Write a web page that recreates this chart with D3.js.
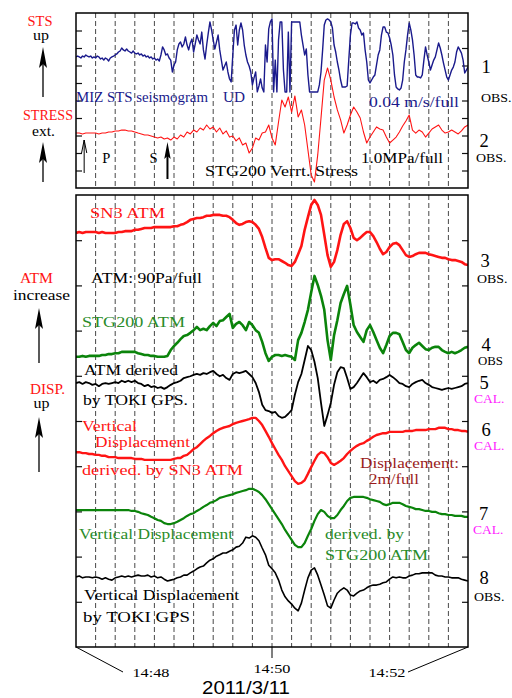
<!DOCTYPE html>
<html>
<head>
<meta charset="utf-8">
<script src="https://cdn.jsdelivr.net/npm/d3@7"></script>
<style>
  body { margin: 0; background: #fff; }
  text { font-family: "Liberation Serif", "Times New Roman", serif; }
</style>
</head>
<body>
<svg id="chart" width="512" height="698"></svg>
<script>
// Records start at 14:48:00. Values are in panel units (0 = panel bottom, 100 = panel top).

// 1: MIZ STS seismogram, UD (0.04 m/s/full, clipped), 1 s samples
const STS_STEP = 1;
const stsUD = [
  74.9, 75.4, 74.9, 74.3, 75.4, 74.9, 76.0, 75.4, 74.9, 75.4,
  74.3, 74.9, 74.3, 75.4, 74.9, 73.7, 74.3, 73.1, 74.3, 73.7,
  72.6, 74.3, 74.9, 75.4, 76.0, 76.6, 77.7, 78.3, 80.0, 78.9,
  78.3, 79.4, 78.3, 77.7, 77.1, 78.3, 77.1, 76.6, 77.1, 76.0,
  76.6, 75.4, 76.0, 74.9, 75.4, 74.3, 74.9, 73.7, 74.3, 73.1,
  73.7, 72.6, 76.0, 80.6, 78.9, 76.0, 76.6, 74.3, 73.1, 66.3,
  70.3, 72.0, 78.9, 82.3, 83.4, 80.6, 82.3, 86.3, 81.7, 78.9,
  82.9, 85.1, 77.7, 82.3, 87.4, 84.6, 82.3, 89.1, 78.9, 73.7,
  81.7, 88.6, 94.9, 90.3, 84.6, 79.4, 83.4, 87.4, 78.9, 73.1,
  67.4, 69.7, 72.0, 66.3, 62.3, 60.6, 76.0, 90.3, 93.1, 81.7,
  90.3, 94.3, 90.3, 81.7, 76.0, 72.0, 69.7, 66.3, 58.9, 62.9,
  66.3, 54.9, 58.3, 62.3, 57.1, 54.9, 81.7, 72.0, 90.9, 94.9,
  96.6, 54.9, 73.1, 54.9, 84.6, 94.9, 94.9, 67.4, 54.9, 54.9,
  89.1, 54.9, 94.9, 94.9, 94.9, 94.9, 94.9, 94.9, 87.4, 81.7,
  76.0, 79.4, 64.6, 54.9, 54.9, 54.9, 54.9, 54.9, 54.9, 58.9,
  66.3, 78.9, 93.1, 96.0, 96.6, 96.0, 94.9, 91.4, 81.7, 77.7,
  72.0, 67.4, 61.7, 57.7, 57.7, 57.7, 58.3, 73.1, 87.4, 94.3,
  94.3, 93.7, 94.9, 91.4, 90.3, 87.4, 88.6, 78.9, 72.0, 61.7,
  60.0, 61.7, 63.4, 64.6, 70.3, 76.0, 78.9, 87.4, 92.0, 92.0,
  89.1, 88.6, 85.7, 81.7, 76.0, 64.6, 57.7, 56.6, 56.0, 57.1,
  61.7, 72.0, 78.9, 87.4, 94.3, 90.3, 84.6, 76.0, 64.6, 63.4,
  63.4, 62.9, 64.6, 73.1, 80.6, 76.0, 72.0, 67.4, 70.3, 73.1,
  74.9, 78.9, 82.9, 80.0, 76.0, 71.4, 67.4, 63.4, 61.7, 64.6,
  67.4, 69.1, 72.0, 77.7, 80.6, 78.9, 77.1, 73.1, 65.7, 67.4, 69.1
];

// The remaining records use 2 s samples
const STEP = 2;

// 2: STG200 vertical stress (1.0 MPa/full)
const stressV = [
  31.4, 31.4, 30.9, 31.4, 31.4, 31.4, 31.4, 30.9, 31.4, 31.4,
  32.0, 32.0, 32.6, 32.6, 33.1, 33.1, 32.6, 32.6, 32.0, 31.4,
  30.9, 30.3, 30.3, 29.7, 29.1, 28.6, 29.1, 28.0, 28.6, 27.4,
  29.1, 28.0, 30.3, 29.1, 32.0, 30.9, 33.1, 32.0, 34.3, 33.1,
  36.0, 33.7, 34.9, 32.0, 34.3, 30.9, 32.6, 29.1, 29.7, 26.9,
  28.6, 24.6, 25.7, 20.0, 22.9, 28.6, 27.4, 31.4, 32.0, 36.0,
  28.6, 24.6, 37.7, 50.3, 46.3, 52.0, 43.4, 52.6, 40.6, 44.6,
  36.0, 21.7, 7.4, 3.4, 18.9, 40.0, 61.7, 68.6, 61.7, 52.0,
  44.6, 38.9, 31.4, 36.0, 41.7, 46.3, 43.4, 40.0, 32.0, 25.7,
  29.1, 32.0, 34.9, 33.7, 33.1, 29.1, 25.7, 27.4, 29.1, 32.0,
  35.4, 38.3, 41.7, 33.1, 31.4, 33.1, 32.0, 29.1, 31.4, 33.7,
  34.9, 36.0, 33.1, 31.4, 32.0, 33.1, 32.0, 30.9, 32.6, 34.9, 36.0
];

// 3: SN3 atmospheric pressure (90 Pa/full)
const sn3Atm = [
  91.6, 91.8, 91.6, 91.8, 91.8, 91.8, 91.8, 91.6, 91.8, 91.6,
  91.6, 91.6, 91.6, 91.8, 91.8, 92.0, 92.0, 92.0, 92.3, 92.3,
  92.5, 92.7, 92.7, 92.7, 92.9, 92.9, 92.9, 92.9, 92.9, 92.9,
  93.1, 93.1, 93.4, 93.6, 94.0, 94.5, 94.7, 94.9, 94.9, 95.1,
  95.4, 95.4, 95.6, 95.6, 95.6, 95.4, 95.4, 95.1, 94.5, 93.8,
  93.4, 93.6, 94.0, 94.2, 94.0, 93.4, 92.5, 90.7, 88.3, 86.1,
  85.6, 85.8, 85.8, 85.4, 85.0, 84.5, 84.3, 85.2, 86.9, 88.7,
  92.3, 95.1, 97.8, 98.9, 97.8, 95.6, 91.2, 86.7, 84.1, 85.2,
  87.8, 91.2, 93.6, 94.2, 92.7, 90.5, 90.0, 90.5, 91.2, 91.8,
  91.8, 90.9, 89.6, 88.1, 86.9, 87.4, 88.5, 89.2, 89.4, 88.9,
  87.8, 86.7, 86.3, 86.5, 86.9, 87.2, 87.2, 87.2, 86.9, 86.7,
  86.5, 86.3, 86.1, 86.1, 85.8, 85.6, 85.6, 85.4, 85.2, 84.7, 84.5
];

// 4: STG200 atmospheric pressure
const stg200Atm = [
  64.2, 64.2, 64.4, 64.2, 64.4, 64.4, 64.4, 64.4, 64.6, 64.6,
  64.8, 64.8, 65.0, 65.0, 65.3, 65.3, 65.3, 65.3, 65.3, 65.0,
  64.8, 64.6, 64.6, 64.4, 64.4, 64.2, 64.2, 64.2, 64.4, 65.7,
  66.6, 67.3, 68.1, 68.8, 69.0, 69.5, 70.1, 70.8, 70.1, 70.4,
  70.1, 71.0, 71.7, 71.0, 72.1, 72.3, 73.0, 73.7, 70.6, 71.5,
  71.9, 71.2, 70.1, 71.9, 71.2, 70.1, 69.5, 67.5, 65.0, 63.3,
  64.2, 64.6, 64.6, 64.4, 64.6, 64.4, 64.2, 63.5, 67.9, 69.5,
  71.9, 74.6, 78.5, 82.1, 80.1, 77.7, 74.6, 67.9, 63.5, 69.0,
  72.3, 76.1, 78.1, 79.9, 75.7, 71.2, 69.7, 68.6, 67.5, 70.1,
  71.2, 69.7, 67.9, 66.2, 65.0, 66.8, 68.8, 69.5, 69.5, 69.2,
  67.5, 65.7, 65.0, 66.2, 66.8, 67.3, 66.6, 65.9, 65.7, 66.2,
  66.4, 66.4, 65.7, 65.3, 65.0, 65.3, 65.0, 65.3, 65.7, 66.2, 66.4
];

// 5: atmospheric pressure derived from TOKI GPS
const tokiAtm = [
  58.4, 58.6, 58.2, 58.6, 58.4, 58.0, 58.2, 57.7, 58.2, 58.4,
  58.2, 58.4, 58.6, 58.4, 58.9, 58.6, 58.9, 58.6, 58.9, 58.4,
  58.2, 57.7, 58.0, 57.5, 57.7, 57.3, 57.5, 57.1, 57.5, 58.0,
  58.4, 58.6, 58.9, 59.5, 59.7, 59.9, 60.2, 60.4, 60.2, 60.6,
  60.4, 60.8, 61.1, 60.4, 59.9, 60.2, 59.5, 59.1, 60.4, 60.8,
  60.6, 60.8, 61.1, 60.4, 59.7, 58.4, 56.4, 53.6, 52.4, 52.2,
  51.8, 52.0, 51.1, 50.7, 50.9, 51.6, 52.4, 55.8, 58.6, 60.4,
  63.5, 66.6, 65.7, 63.1, 59.5, 54.0, 48.9, 51.3, 54.0, 58.0,
  60.8, 61.9, 61.7, 59.5, 57.1, 57.5, 58.4, 59.5, 60.6, 59.7,
  58.6, 58.9, 58.4, 59.1, 59.3, 59.7, 60.2, 59.7, 59.1, 58.4,
  58.2, 57.7, 57.5, 58.2, 58.6, 58.9, 59.1, 58.4, 58.0, 57.5,
  57.3, 57.1, 56.9, 57.1, 57.3, 57.1, 57.3, 57.5, 57.7, 58.2, 58.4
];

// 6: vertical displacement derived from SN3 atmospheric pressure (2 m/full)
const sn3Disp = [
  43.1, 43.1, 42.9, 42.9, 42.7, 42.7, 42.5, 42.5, 42.3, 42.3,
  42.0, 42.0, 42.0, 41.8, 41.8, 41.8, 41.8, 41.8, 41.6, 41.6,
  41.6, 41.4, 41.4, 41.4, 41.4, 41.4, 41.4, 41.4, 41.4, 41.4,
  41.6, 41.8, 41.8, 42.3, 42.5, 43.1, 43.8, 44.2, 44.9, 45.6,
  46.2, 46.7, 47.3, 47.8, 48.2, 48.5, 48.7, 48.9, 49.3, 49.6,
  49.8, 50.0, 50.2, 50.4, 50.7, 50.7, 50.0, 49.1, 47.8, 46.5,
  45.1, 43.8, 42.5, 41.4, 40.0, 38.9, 37.8, 36.7, 36.1, 36.3,
  36.9, 38.3, 39.8, 41.2, 42.5, 43.1, 42.9, 42.0, 40.7, 40.3,
  40.7, 41.2, 41.8, 42.7, 43.4, 44.0, 44.5, 44.9, 45.1, 45.6,
  46.0, 46.5, 46.9, 47.1, 47.3, 47.3, 47.6, 47.6, 47.6, 47.6,
  47.6, 47.8, 47.8, 47.8, 48.0, 48.0, 48.0, 48.0, 48.2, 48.2,
  48.2, 48.5, 48.5, 48.5, 48.2, 48.2, 48.0, 48.0, 47.8, 47.8, 47.6
];

// 7: vertical displacement derived from STG200 atmospheric pressure
const stg200Disp = [
  30.3, 30.3, 30.3, 30.3, 30.3, 30.3, 30.3, 30.3, 30.3, 30.3,
  30.3, 30.3, 30.3, 30.3, 30.3, 30.3, 30.3, 30.1, 30.1, 29.9,
  29.6, 29.4, 29.2, 28.8, 28.5, 28.1, 27.9, 27.4, 27.2, 27.2,
  27.4, 27.7, 28.1, 28.5, 29.0, 29.4, 29.6, 30.1, 30.5, 31.0,
  31.4, 31.9, 32.1, 32.5, 33.0, 33.2, 33.4, 33.6, 33.8, 34.1,
  34.3, 34.5, 34.7, 35.0, 35.0, 34.7, 34.3, 33.6, 32.7, 31.6,
  30.5, 29.4, 28.3, 27.2, 25.9, 24.8, 23.7, 22.6, 22.1, 22.1,
  23.0, 24.6, 26.1, 27.9, 29.4, 30.3, 29.9, 29.0, 28.5, 28.5,
  29.2, 30.3, 31.2, 32.3, 33.0, 33.2, 33.2, 33.2, 33.2, 33.0,
  32.7, 32.5, 32.3, 32.1, 31.6, 31.4, 31.6, 31.9, 31.9, 31.9,
  31.6, 31.2, 31.0, 30.8, 30.5, 30.5, 30.3, 30.1, 30.1, 29.9,
  29.9, 29.6, 29.4, 29.4, 29.2, 29.2, 29.0, 29.0, 29.0, 28.8, 28.8
];

// 8: vertical displacement observed by TOKI GPS
const tokiDisp = [
  15.5, 15.7, 15.3, 15.5, 15.5, 15.3, 15.5, 15.3, 15.0, 15.3,
  15.0, 14.8, 15.3, 15.5, 15.7, 15.5, 15.7, 15.5, 15.7, 15.9,
  15.7, 15.7, 15.9, 15.5, 15.7, 15.3, 15.5, 15.0, 14.6, 14.8,
  15.0, 15.3, 15.5, 15.9, 15.9, 16.4, 16.8, 17.3, 17.7, 17.9,
  18.6, 19.2, 19.5, 20.1, 20.4, 20.8, 20.8, 21.2, 21.5, 22.1,
  22.3, 23.0, 24.3, 24.1, 24.6, 24.3, 23.5, 21.9, 20.4, 18.1,
  17.3, 16.4, 14.8, 12.6, 11.1, 10.2, 9.5, 8.6, 8.0, 9.7,
  12.6, 15.3, 17.0, 17.5, 15.9, 13.7, 11.5, 9.1, 8.6, 10.4,
  11.9, 12.6, 13.1, 12.6, 11.5, 11.3, 11.9, 12.4, 12.6, 13.1,
  13.5, 13.7, 13.7, 13.9, 14.2, 14.4, 15.0, 15.5, 15.3, 15.5,
  15.3, 15.3, 15.7, 15.9, 16.2, 16.2, 16.4, 16.4, 16.4, 16.4,
  15.9, 15.7, 15.7, 15.5, 15.5, 15.3, 15.3, 15.3, 15.0, 14.8, 14.6
];

// Time axis: seconds after 14:48:00
const timeSpan = [0, 240];
const gridStep = 12;
const timeLabels = ["14:48", "14:50", "14:52"];
const timeLabelSecs = [0, 120, 240];
const dateLabel = "2011/3/11";
const phaseLabels = ["P", "S"];
const phaseSecs = [5, 56];

const RED = "#ff1414", GREEN = "#0b840b", NAVY = "#1a1a8c";
const TXT_GREEN = "#2a8c2a", DARKRED = "#9a1c1c", MAGENTA = "#ff1cff";

const svg = d3.select("#chart");

const x = d3.scaleLinear().domain(timeSpan).range([76, 468]);
const yTop = d3.scaleLinear().domain([0, 100]).range([188, 13]);
const yBot = d3.scaleLinear().domain([0, 100]).range([647, 195]);
// compressed overview scale used only for the clock labels under the panel
const xClock = d3.scaleLinear().domain(timeSpan).range([151, 387]);

const panels = [
  { id: "clipTop", y: yTop },
  { id: "clipBot", y: yBot }
];

const defs = svg.append("defs");
panels.forEach(p => {
  const [b, t] = p.y.range();
  defs.append("clipPath").attr("id", p.id)
    .append("rect").attr("x", x.range()[0]).attr("y", t)
    .attr("width", x.range()[1] - x.range()[0]).attr("height", b - t);
});

// grid lines and inward ticks
panels.forEach(p => {
  const [b, t] = p.y.range();
  const g = svg.append("g");
  g.selectAll("line.grid")
    .data(d3.range(gridStep, timeSpan[1], gridStep))
    .join("line")
    .attr("x1", d => x(d)).attr("x2", d => x(d))
    .attr("y1", t).attr("y2", b)
    .attr("stroke", "#333").attr("stroke-width", 0.9)
    .attr("stroke-dasharray", "5,3");

  const tickVals = d3.range(10, 100, 10);
  const left = svg.append("g").attr("transform", `translate(${x.range()[0]},0)`)
    .call(d3.axisLeft(p.y).tickValues(tickVals).tickSize(-6).tickFormat(""));
  const right = svg.append("g").attr("transform", `translate(${x.range()[1]},0)`)
    .call(d3.axisRight(p.y).tickValues(tickVals).tickSize(-6).tickFormat(""));
  [left, right].forEach(a => {
    a.select(".domain").remove();
    a.selectAll(".tick line").attr("stroke", "#111").attr("stroke-width", 1.2);
  });
});

// traces
const traces = [
  { data: stsUD,      step: STS_STEP, y: yTop, clip: "clipTop", color: NAVY,  w: 1.4 },
  { data: stressV,    step: STEP, y: yTop, clip: "clipTop", color: RED,   w: 1.1 },
  { data: sn3Atm,     step: STEP, y: yBot, clip: "clipBot", color: RED,   w: 2.6 },
  { data: stg200Atm,  step: STEP, y: yBot, clip: "clipBot", color: GREEN, w: 2.6 },
  { data: tokiAtm,    step: STEP, y: yBot, clip: "clipBot", color: "#000", w: 1.8 },
  { data: sn3Disp,    step: STEP, y: yBot, clip: "clipBot", color: RED,   w: 2.4 },
  { data: stg200Disp, step: STEP, y: yBot, clip: "clipBot", color: GREEN, w: 2.2 },
  { data: tokiDisp,   step: STEP, y: yBot, clip: "clipBot", color: "#000", w: 1.6 }
];
traces.forEach(tr => {
  const line = d3.line()
    .x((d, i) => x(i * tr.step))
    .y(d => tr.y(d));
  svg.append("path")
    .attr("clip-path", `url(#${tr.clip})`)
    .attr("d", line(tr.data))
    .attr("fill", "none")
    .attr("stroke", tr.color)
    .attr("stroke-width", tr.w)
    .attr("stroke-linejoin", "round");
});

// panel frames
panels.forEach(p => {
  const [b, t] = p.y.range();
  svg.append("rect")
    .attr("x", x.range()[0]).attr("y", t)
    .attr("width", x.range()[1] - x.range()[0]).attr("height", b - t)
    .attr("fill", "none").attr("stroke", "#000").attr("stroke-width", 1.5);
});

// text helper
function label(g, t, px, py, o = {}) {
  const el = g.append("text")
    .attr("x", px).attr("y", py)
    .attr("fill", o.fill || "#000")
    .attr("font-size", o.size || 14)
    .attr("text-anchor", o.anchor || "start")
    .text(t);
  if (o.family) el.style("font-family", o.family);
  if (o.len) el.attr("textLength", o.len).attr("lengthAdjust", "spacingAndGlyphs");
  return el;
}

const ann = svg.append("g");

// labels inside the panels
const inner = [
  ["MIZ STS seismogram", 76, 102, NAVY, 132],
  ["UD", 223, 102, NAVY, 22],
  ["0.04 m/s/full", 369, 107, NAVY, 90],
  ["STG200 Verrt. Stress", 205, 175.5, "#000", 153],
  ["1.0MPa/full", 361, 162.5, "#000", 82],
  ["SN3 ATM", 90, 218, RED, 75],
  ["ATM: 90Pa/full", 91, 283, "#000", 111],
  ["STG200 ATM", 82, 327, TXT_GREEN, 103],
  ["ATM derived", 84, 375, "#000", 94],
  ["by TOKI GPS.", 83, 405, "#000", 105],
  ["Vertical", 82, 430.5, RED, 55],
  ["Displacement", 95, 447, RED, 95],
  ["derived. by SN3 ATM", 82, 475, RED, 161],
  ["Displacement:", 360, 468, DARKRED, 99],
  ["2m/full", 369, 484, DARKRED, 50],
  ["Vertical Displacement", 79, 539, TXT_GREEN, 154],
  ["derived. by", 325, 539, TXT_GREEN, 79],
  ["STG200 ATM", 325, 560, TXT_GREEN, 103],
  ["Vertical Displacement", 84, 600, "#000", 155],
  ["by TOKI GPS", 83, 622, "#000", 107]
];
inner.forEach(([t, px, py, c, len]) => label(ann, t, px, py, { fill: c, size: 14.5, len }));

// phase arrivals: letters sit to the right of the P arrow and to the left of the S arrow
label(ann, phaseLabels[0], x(phaseSecs[0]) + 18, 163, { size: 14.5 });
label(ann, phaseLabels[1], x(phaseSecs[1]) - 18, 163, { size: 14.5 });
{
  const px = x(phaseSecs[0]);
  ann.append("path")
    .attr("d", `M${px},173 L${px},140 M${px - 2.6},153 L${px},140 L${px + 2.6},153`)
    .attr("fill", "none").attr("stroke", "#000").attr("stroke-width", 1);
}
{
  const sx = x(phaseSecs[1]);
  ann.append("line").attr("x1", sx).attr("x2", sx).attr("y1", 179).attr("y2", 152)
    .attr("stroke", "#000").attr("stroke-width", 2);
  ann.append("path")
    .attr("d", `M${sx},142 L${sx + 3.2},159 L${sx},156 L${sx - 3.2},159 Z`)
    .attr("fill", "#000");
}

// left-hand axis captions with arrows
const leftLabels = [
  ["STS", 40, 26, RED, 25],
  ["up", 41, 40, "#000", 16],
  ["STRESS", 48, 120, RED, 50],
  ["ext.", 43.5, 136, "#000", 23],
  ["ATM", 36.5, 283, RED, 33],
  ["increase", 41.5, 300, "#000", 57],
  ["DISP.", 47.5, 394, RED, 35],
  ["up", 41.5, 408, "#000", 16]
];
leftLabels.forEach(([t, px, py, c, len]) => label(ann, t, px, py, { fill: c, size: 14, anchor: "middle", len }));

const bigArrows = [[43, 47, 97], [43, 142, 182], [39, 308, 363], [39, 417, 472]];
bigArrows.forEach(([ax, tip, tail]) => {
  ann.append("line").attr("x1", ax).attr("x2", ax).attr("y1", tail).attr("y2", tip + 12)
    .attr("stroke", "#000").attr("stroke-width", 1.3);
  ann.append("path")
    .attr("d", `M${ax},${tip} L${ax + 4},${tip + 21} L${ax},${tip + 17} L${ax - 4},${tip + 21} Z`)
    .attr("fill", "#000");
});

// right-hand trace numbers
const traceNums = [
  ["1", 486, 73, "OBS.", 481, 101.7, "#000"],
  ["2", 484, 146.7, "OBS.", 476, 161.7, "#000"],
  ["3", 485, 267, "OBS.", 477, 283, "#000"],
  ["4", 486, 350.5, "OBS", 478, 365, "#000"],
  ["5", 484, 389, "CAL.", 474, 403, MAGENTA],
  ["6", 486, 435.5, "CAL.", 474, 450, MAGENTA],
  ["7", 483.5, 520, "CAL.", 473, 534, MAGENTA],
  ["8", 484, 584, "OBS.", 474, 600.7, "#000"]
];
traceNums.forEach(([n, nx, ny, s, sx, sy, sc]) => {
  label(ann, n, nx, ny, { size: 18.5, anchor: "middle" });
  label(ann, s, sx, sy, { size: 11.5, fill: sc, len: s === "OBS" ? 25 : 30.5 });
});

// time axis below the lower panel
const base = yBot.range()[0];
ann.append("line").attr("x1", x(120)).attr("x2", x(120)).attr("y1", base).attr("y2", base + 11)
  .attr("stroke", "#000").attr("stroke-width", 1);
ann.append("line").attr("x1", x(0)).attr("y1", base).attr("x2", xClock(0) - 28).attr("y2", base + 25)
  .attr("stroke", "#000").attr("stroke-width", 1);
ann.append("line").attr("x1", x(240)).attr("y1", base).attr("x2", xClock(240) + 21).attr("y2", base + 25)
  .attr("stroke", "#000").attr("stroke-width", 1);
timeLabels.forEach((t, i) => {
  const s = timeLabelSecs[i];
  label(ann, t, s === 120 ? x(s) : xClock(s), s === 120 ? base + 26 : base + 29.7,
    { size: 13.5, anchor: "middle", len: 37 });
});
label(ann, dateLabel, 246, 694, {
  size: 18, anchor: "middle", len: 88,
  family: "'Liberation Sans', Arial, sans-serif"
});
</script>
</body>
</html>
